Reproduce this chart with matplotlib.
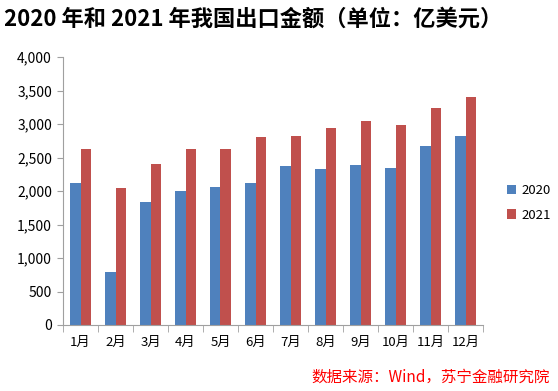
import matplotlib
matplotlib.use("Agg")
import matplotlib.pyplot as plt
import numpy as np
from matplotlib.ticker import FuncFormatter, FixedLocator

plt.rcParams['font.family'] = ['Noto Sans CJK SC', 'DejaVu Sans']

months = ["1月", "2月", "3月", "4月", "5月", "6月", "7月", "8月", "9月", "10月", "11月", "12月"]
exports_2020 = [2112, 792, 1843, 1993, 2062, 2112, 2366, 2331, 2381, 2346, 2665, 2814]
exports_2021 = [2630, 2047, 2396, 2630, 2630, 2800, 2814, 2934, 3049, 2984, 3233, 3402]
series_names = ["2020", "2021"]

fig = plt.figure(figsize=(5.58, 3.91), dpi=100)
ax = fig.add_axes([63/558, 66/391, 420/558, 268/391])

x = np.arange(len(months))
w = 0.29
ax.bar(x - w/2, exports_2020, w, color="#4F81BD", label=series_names[0])
ax.bar(x + w/2, exports_2021, w, color="#C0504D", label=series_names[1])

ax.set_xlim(-0.5, len(months) - 0.5)
ax.set_ylim(0, 4000)
ax.set_yticks(np.arange(0, 4001, 500))
ax.yaxis.set_major_formatter(FuncFormatter(lambda v, p: f"{int(v):,}"))
ax.set_xticks(x)
ax.set_xticklabels(months)
ax.xaxis.set_minor_locator(FixedLocator(np.arange(-0.5, len(months), 1.0)))
ax.tick_params(axis='x', which='major', length=0, pad=8, labelsize=9.5)
ax.tick_params(axis='x', which='minor', length=5, color="#A0A0A0", direction='out')
ax.tick_params(axis='y', length=4, color="#A0A0A0", labelsize=10, pad=4)
for s in ['top', 'right']:
    ax.spines[s].set_visible(False)
for s in ['left', 'bottom']:
    ax.spines[s].set_color("#A0A0A0")

leg = fig.legend(loc='center left', bbox_to_anchor=(507/558, 1 - 203/391), frameon=False,
                 fontsize=9.5, handlelength=0.7, handleheight=0.7, handletextpad=0.4,
                 labelspacing=0.85, borderaxespad=0, borderpad=0)

fig.text(4/558, 1 - 19/391, "2020 年和 2021 年我国出口金额（单位：亿美元）", fontsize=16,
         fontweight='bold', va='center', ha='left')
fig.text(550/558, 1 - 377/391, "数据来源：Wind，苏宁金融研究院", fontsize=11.2, color="#FF0000",
         style='italic', va='center', ha='right')

fig.savefig("out.png", dpi=100)
